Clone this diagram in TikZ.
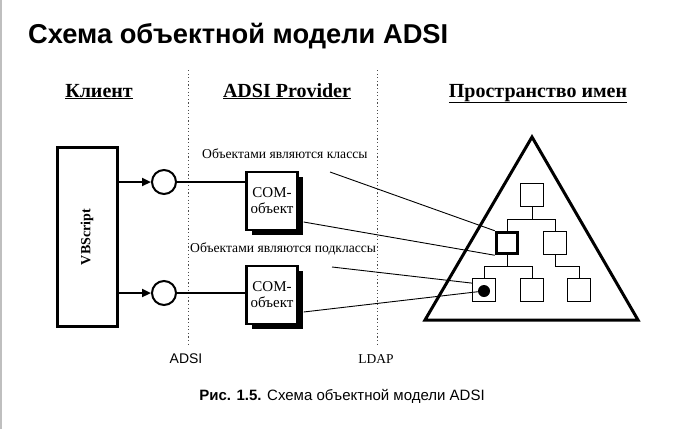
\documentclass[tikz,border=0pt]{standalone}
\usepackage{fontspec}
\setmainfont{Liberation Serif}
\newfontfamily\arialfont{Liberation Sans}
\usetikzlibrary{shapes,arrows.meta,shadows}

\tikzset{
  com/.style={draw, fill=white, line width=2.2pt, minimum width=51pt, minimum height=58pt, inner sep=0pt, align=center,
    font=\fontsize{15}{16}\selectfont, drop shadow={shadow xshift=5pt, shadow yshift=-5pt, opacity=1, fill=black}},
  port/.style={draw, circle, line width=2pt, minimum size=24pt, inner sep=0pt, fill=white},
  cls/.style={draw, line width=0.8pt, minimum size=23pt, inner sep=0pt},
  hdr/.style={anchor=base, font=\fontsize{20}{20}\selectfont\bfseries},
  lbl/.style={anchor=base west, inner sep=0pt, font=\fontsize{13.6}{13.6}\selectfont},
  sep/.style={black!70, line width=0.8pt, dash pattern=on 1.2pt off 2.4pt},
}

\begin{document}
\begin{tikzpicture}[x=1pt,y=-1pt]
	\useasboundingbox (0,0) rectangle (685,429);
	\draw[black!25, line width=1.5pt] (1,0) -- (1,429);
	\node[anchor=base west, inner sep=0pt, font=\arialfont\bfseries\fontsize{27.3}{27.3}\selectfont] (title) at (28,43) {Схема объектной модели ADSI};
	% columns
	\draw[sep] (188,70) -- (188,345);
	\draw[sep] (377,70) -- (377,345);
	\node[hdr] (client) at (99,97) {\underline{Клиент}};
	\node[hdr] (provider) at (287,97) {\underline{ADSI Provider}};
	\node[hdr] (space) at (538,97) {\underline{Пространство имен}};
	% client and provider
	\node[draw, line width=3pt, minimum width=60pt, minimum height=179pt] (vb) at (87,237) {};
	\node[rotate=90, font=\fontsize{14}{14}\selectfont\bfseries] at (vb) {VBScript};
	\node[com] (c1) at (272,201) {COM-\\объект};
	\node[com] (c2) at (272,295) {COM-\\объект};
	\foreach \i / \y in {1/182,2/293} {
		\node[port] (o\i) at (164,\y) {};
		\draw[line width=2.2pt, -{Triangle[length=9pt,width=8pt]}] (vb.east |- o\i) -- (o\i);
		\draw[line width=2.2pt] (o\i) -- (o\i -| c\i.west);
	}
	\node[lbl] (l1) at (202,158) {Объектами являются классы};
	\node[lbl] (l2) at (190,252) {Объектами являются подклассы};
	% namespace
	\draw[line width=3pt, line join=miter] (532,137) -- (638,320) -- (425,320) -- cycle;
	\node[cls] (t) at (532,195) {};
	\node[cls, line width=3.5pt, minimum size=21pt] (k) at (507,243) {};
	\node[cls] (r) at (555,243) {};
	\foreach \n / \x in {b1/484,b2/532,b3/579} { \node[cls] (\n) at (\x,290) {}; }
	\fill (484,291) circle (6) coordinate (dot);
	\draw[line width=0.8pt] (t.south) -- (532,219) -| (k.north);
	\draw[line width=0.8pt] (t.south) -- (532,219) -| (r.north);
	\draw[line width=0.8pt] (k.south) -- (507,266) -| (b1.north);
	\draw[line width=0.8pt] (k.south) -- (507,266) -| (b2.north);
	\draw[line width=0.8pt] (r.south) -- (555,266) -| (b3.north);
	% pointers
	\coordinate (p1) at (330,172);
	\coordinate (p3) at (332,267);
	\draw[line width=0.9pt] (p1) -- (k.north west);
	\draw[line width=0.9pt] ([xshift=5pt,yshift=-21pt]c1.east) -- (k.south west);
	\draw[line width=0.9pt] (p3) -- (b1.150);
	\draw[line width=0.9pt] ([xshift=5pt,yshift=-17pt]c2.east) -- (dot);
	% bottom
	\node[anchor=base, font=\arialfont\fontsize{14}{14}\selectfont] (adsi) at (186,363) {ADSI};
	\node[anchor=base, font=\fontsize{13.5}{13.5}\selectfont] (ldap) at (376,363) {LDAP};
	\node[anchor=base, font=\arialfont\fontsize{15}{15}\selectfont] (caption) at (342,400) {\textbf{Рис. 1.5.} Схема объектной модели ADSI};
\end{tikzpicture}
\end{document}
